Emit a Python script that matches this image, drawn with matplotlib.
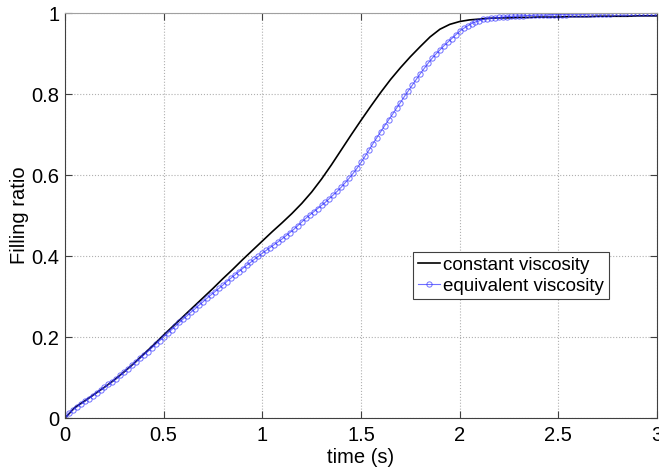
import numpy as np
import matplotlib
matplotlib.use('Agg')
import matplotlib.pyplot as plt

plt.rcParams['font.family'] = ['Liberation Sans', 'DejaVu Sans']

# constant viscosity, sampled every 0.05 s
t_const = np.linspace(0, 3, 61)
fill_const = [
    0.000, 0.026, 0.042, 0.059, 0.076, 0.094, 0.114, 0.135, 0.158, 0.181,
    0.205, 0.228, 0.251, 0.274, 0.297, 0.320, 0.344, 0.367, 0.391, 0.414,
    0.437, 0.460, 0.482, 0.505, 0.530, 0.558, 0.590, 0.625, 0.662, 0.699,
    0.735, 0.770, 0.804, 0.836, 0.865, 0.892, 0.917, 0.941, 0.960, 0.972,
    0.979, 0.983, 0.985, 0.987, 0.988, 0.988, 0.989, 0.989, 0.990, 0.990,
    0.990, 0.991, 0.991, 0.991, 0.992, 0.992, 0.992, 0.992, 0.993, 0.993,
    0.993,
]

# equivalent viscosity, sampled every 0.02 s
t_equiv = np.linspace(0, 3, 151)
fill_equiv = [
    0.000, 0.012, 0.020, 0.027, 0.034, 0.041, 0.048, 0.055, 0.062, 0.069,
    0.076, 0.083, 0.090, 0.097, 0.105, 0.114, 0.122, 0.130, 0.139, 0.147,
    0.156, 0.164, 0.173, 0.182, 0.191, 0.200, 0.209, 0.218, 0.227, 0.236,
    0.245, 0.253, 0.262, 0.270, 0.279, 0.287, 0.296, 0.304, 0.312, 0.320,
    0.328, 0.337, 0.345, 0.353, 0.361, 0.369, 0.377, 0.384, 0.392, 0.399,
    0.407, 0.414, 0.421, 0.428, 0.435, 0.442, 0.450, 0.458, 0.466, 0.475,
    0.484, 0.493, 0.501, 0.509, 0.517, 0.525, 0.533, 0.542, 0.551, 0.560,
    0.570, 0.581, 0.592, 0.604, 0.617, 0.631, 0.646, 0.661, 0.677, 0.692,
    0.707, 0.722, 0.736, 0.750, 0.765, 0.779, 0.794, 0.808, 0.822, 0.836,
    0.850, 0.863, 0.876, 0.888, 0.899, 0.909, 0.919, 0.928, 0.937, 0.946,
    0.955, 0.962, 0.968, 0.974, 0.978, 0.981, 0.984, 0.986, 0.987, 0.988,
    0.989, 0.990, 0.991, 0.992, 0.992, 0.993, 0.993, 0.994, 0.994, 0.995,
    0.995, 0.995, 0.995, 0.996, 0.996, 0.996, 0.996, 0.996, 0.997, 0.997,
    0.997, 0.997, 0.997, 0.998, 0.998, 0.998, 0.998, 0.998, 0.998, 0.999,
    0.999, 0.999, 0.999, 0.999, 0.999, 0.999, 1.000, 1.000, 1.000, 1.000,
    1.000,
]

xticks = [0, 0.5, 1, 1.5, 2, 2.5, 3]
xticklabels = ['0', '0.5', '1', '1.5', '2', '2.5', '3']
yticks = [0, 0.2, 0.4, 0.6, 0.8, 1]
yticklabels = ['0', '0.2', '0.4', '0.6', '0.8', '1']

fig = plt.figure(figsize=(6.59, 4.68), dpi=100)
ax = fig.add_axes([0.0986, 0.1068, 0.8984, 0.8654])

ax.plot(t_const, fill_const, color='black', lw=1.2, label='constant viscosity')
ax.plot(t_equiv, fill_equiv, color='#3333ff', lw=0.8, marker='o', markersize=3.8,
        markerfacecolor='none', markeredgewidth=0.7, alpha=0.7,
        label='equivalent viscosity')

ax.set_xlim(0, 3)
ax.set_ylim(0, 1)
ax.set_xticks(xticks)
ax.set_xticklabels(xticklabels)
ax.set_yticks(yticks)
ax.set_yticklabels(yticklabels)

ax.grid(True, linestyle=':', color='#b0b0b0', lw=0.8)
ax.tick_params(direction='in', length=5, width=0.8, labelsize=14.5, pad=4,
               top=True, right=True, colors='#404040', labelcolor='black')
ax.tick_params(axis='x', pad=6)
for side in ax.spines:
    ax.spines[side].set_color('#404040')
    ax.spines[side].set_linewidth(0.8)
ax.spines['top'].set_color('#a0a0a0')

ax.set_xlabel('time (s)', fontsize=14.5, labelpad=2)
ax.set_ylabel('Filling ratio', fontsize=14.5, labelpad=2)

leg = ax.legend(loc='upper left', bbox_to_anchor=(0.588, 0.41), fontsize=13.5,
                fancybox=False, framealpha=1, edgecolor='#404040',
                handlelength=1.2, handletextpad=0.15, borderpad=0.25,
                labelspacing=0.2, borderaxespad=0)
leg.get_frame().set_linewidth(0.8)

fig.savefig('out.png', dpi=100)
